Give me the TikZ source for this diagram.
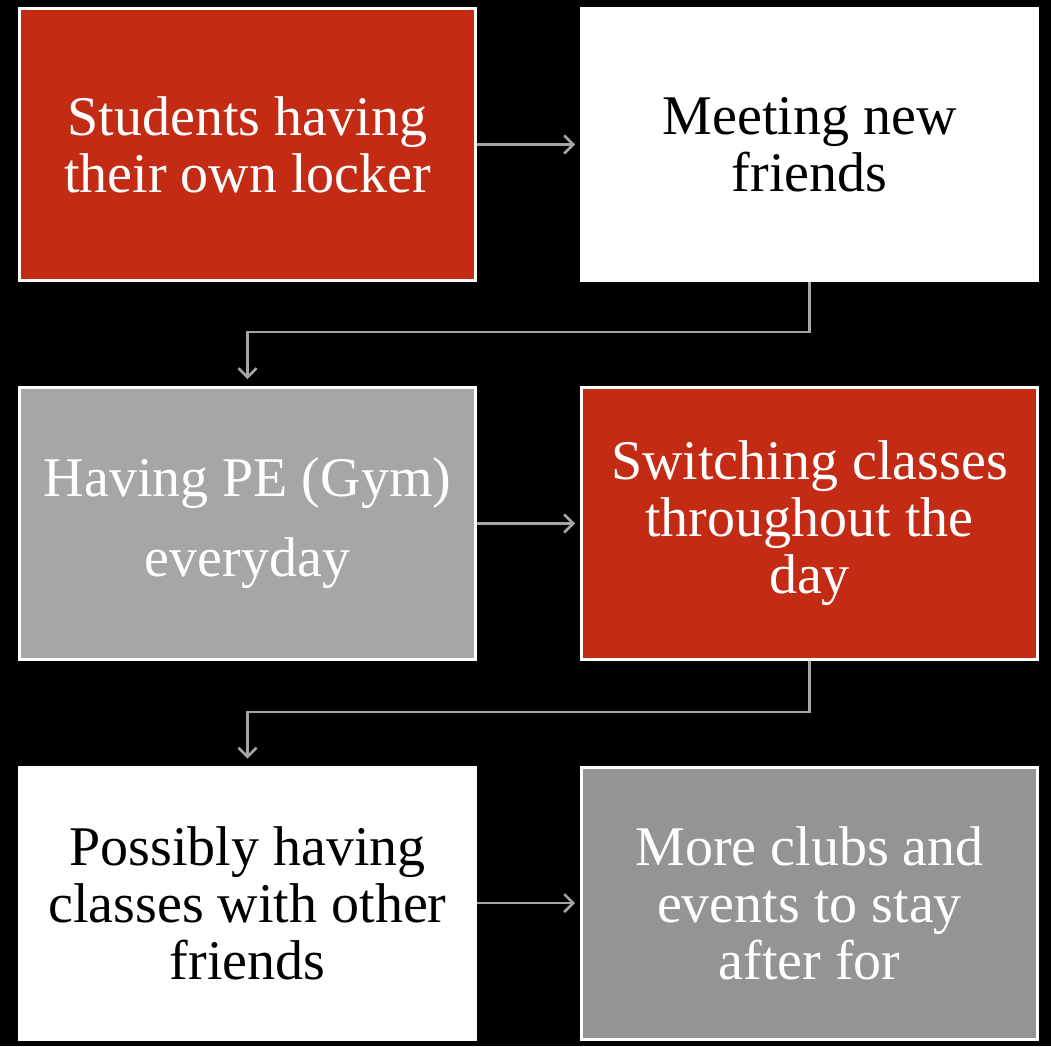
\documentclass[tikz,border=0pt]{standalone}
\usepackage{fontspec}
\setmainfont{Liberation Serif}
\usetikzlibrary{arrows.meta}
\definecolor{boxred}{RGB}{196,43,20}
\definecolor{boxgrayA}{RGB}{166,166,166}
\definecolor{boxgrayB}{RGB}{148,148,148}
\definecolor{linkgray}{RGB}{165,165,165}
\begin{document}
\begin{tikzpicture}[x=1pt,y=-1pt,
  card/.style={draw=white, line width=3pt, minimum width=456pt, minimum height=272pt,
    align=center, inner sep=0pt, font=\fontsize{56}{57}\selectfont},
  link/.style={draw=linkgray, line width=2.5pt,
    -{Straight Barb[length=9pt,width=18pt,line width=2.5pt]}}]
\fill[black] (0,0) rectangle (1051,1046);
\useasboundingbox (0,0) rectangle (1051,1046);
\node[card, fill=boxred, text=white] (a) at (247.5,144.5) {Students having\\their own locker};
\node[card, fill=white, text=black] (b) at (809.5,144.5) {Meeting new\\friends};
\node[card, fill=boxgrayA, text=white] (c) at (247.5,523.5) {Having PE (Gym)\\[23pt]everyday};
\node[card, fill=boxred, text=white] (d) at (809.5,523.5) {Switching classes\\throughout the\\day};
\node[card, fill=white, text=black] (e) at (247.5,903) {Possibly having\\classes with other\\friends};
\node[card, fill=boxgrayB, text=white] (f) at (809.5,903) {More clubs and\\events to stay\\after for};
\draw[link, shorten >=5pt] (a.east) -- (b.west);
\draw[link, shorten >=5pt] (c.east) -- (d.west);
\draw[link, shorten >=5pt] (e.east) -- (f.west);
\draw[link, shorten >=7pt] (b.south) -- ++(0,50) -| (c.north);
\draw[link, shorten >=7pt] (d.south) -- ++(0,51) -| (e.north);
\end{tikzpicture}
\end{document}
